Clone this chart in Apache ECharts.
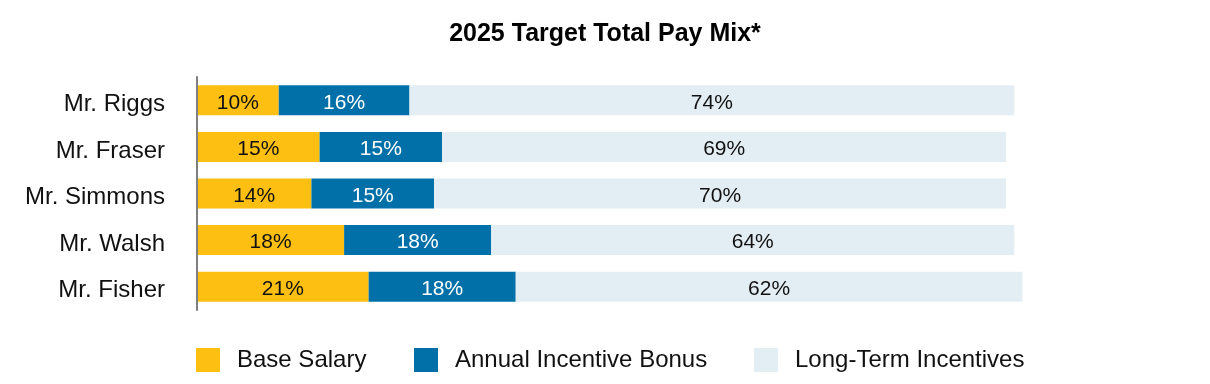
<!DOCTYPE html>
<html>
<head>
<meta charset="utf-8">
<script src="https://cdn.jsdelivr.net/npm/echarts@6/dist/echarts.min.js"></script>
<style>
  html, body { margin: 0; padding: 0; background: #ffffff; }
  #chart { width: 1210px; height: 384px; }
</style>
</head>
<body>
<div id="chart"></div>
<script>
const titleText = '2025 Target Total Pay Mix*';
const categories = ['Mr. Riggs', 'Mr. Fraser', 'Mr. Simmons', 'Mr. Walsh', 'Mr. Fisher'];
const seriesNames = ['Base Salary', 'Annual Incentive Bonus', 'Long-Term Incentives'];
const baseSalary = [10, 15, 14, 18, 21];
const annualBonus = [16, 15, 15, 18, 18];
const longTerm = [74, 69, 70, 64, 62];

const FONT = '"Liberation Sans", Arial, Helvetica, sans-serif';
const colors = ['#FDBF12', '#0270A8', '#E3EEF4'];
const labelColors = ['#111111', '#ffffff', '#111111'];
const seriesData = [baseSalary, annualBonus, longTerm];
const legendLefts = [196, 414, 754];

const chart = echarts.init(document.getElementById('chart'), null, { renderer: 'canvas' });

const option = {
  animation: false,
  backgroundColor: '#ffffff',
  title: {
    text: titleText,
    left: 'center',
    top: 20,
    padding: 0,
    textStyle: { fontFamily: FONT, fontSize: 25, fontWeight: 'bold', color: '#000000', lineHeight: 28 }
  },
  legend: seriesNames.map((n, i) => ({
    data: [n],
    left: legendLefts[i],
    top: 348,
    padding: 0,
    itemWidth: 24,
    itemHeight: 24,
    icon: 'rect',
    selectedMode: false,
    textStyle: { fontFamily: FONT, fontSize: 24, color: '#111111', lineHeight: 24, padding: [0, 0, 0, 12] }
  })),
  grid: { left: 197, top: 77, width: 899, height: 233, containLabel: false },
  xAxis: {
    type: 'value',
    min: 0,
    max: 110,
    show: false
  },
  yAxis: {
    type: 'category',
    data: categories,
    inverse: true,
    axisLine: { show: true, lineStyle: { color: '#7f7f7f', width: 2 } },
    axisTick: { show: false },
    axisLabel: {
      margin: 32,
      fontFamily: FONT,
      fontSize: 24,
      color: '#111111',
      formatter: v => '{c|' + v + '}',
      rich: { c: { fontFamily: FONT, fontSize: 24, color: '#111111', padding: [8, 0, 0, 0] } }
    },
    z: 10
  },
  series: seriesNames.map((n, i) => ({
    name: n,
    type: 'bar',
    stack: 'total',
    barWidth: 30,
    data: seriesData[i],
    itemStyle: { color: colors[i] },
    label: {
      show: true,
      position: 'inside',
      formatter: p => p.value + '%',
      fontFamily: FONT,
      fontSize: 21,
      color: labelColors[i],
      offset: [0, 2.5]
    }
  }))
};

chart.setOption(option);
</script>
</body>
</html>
